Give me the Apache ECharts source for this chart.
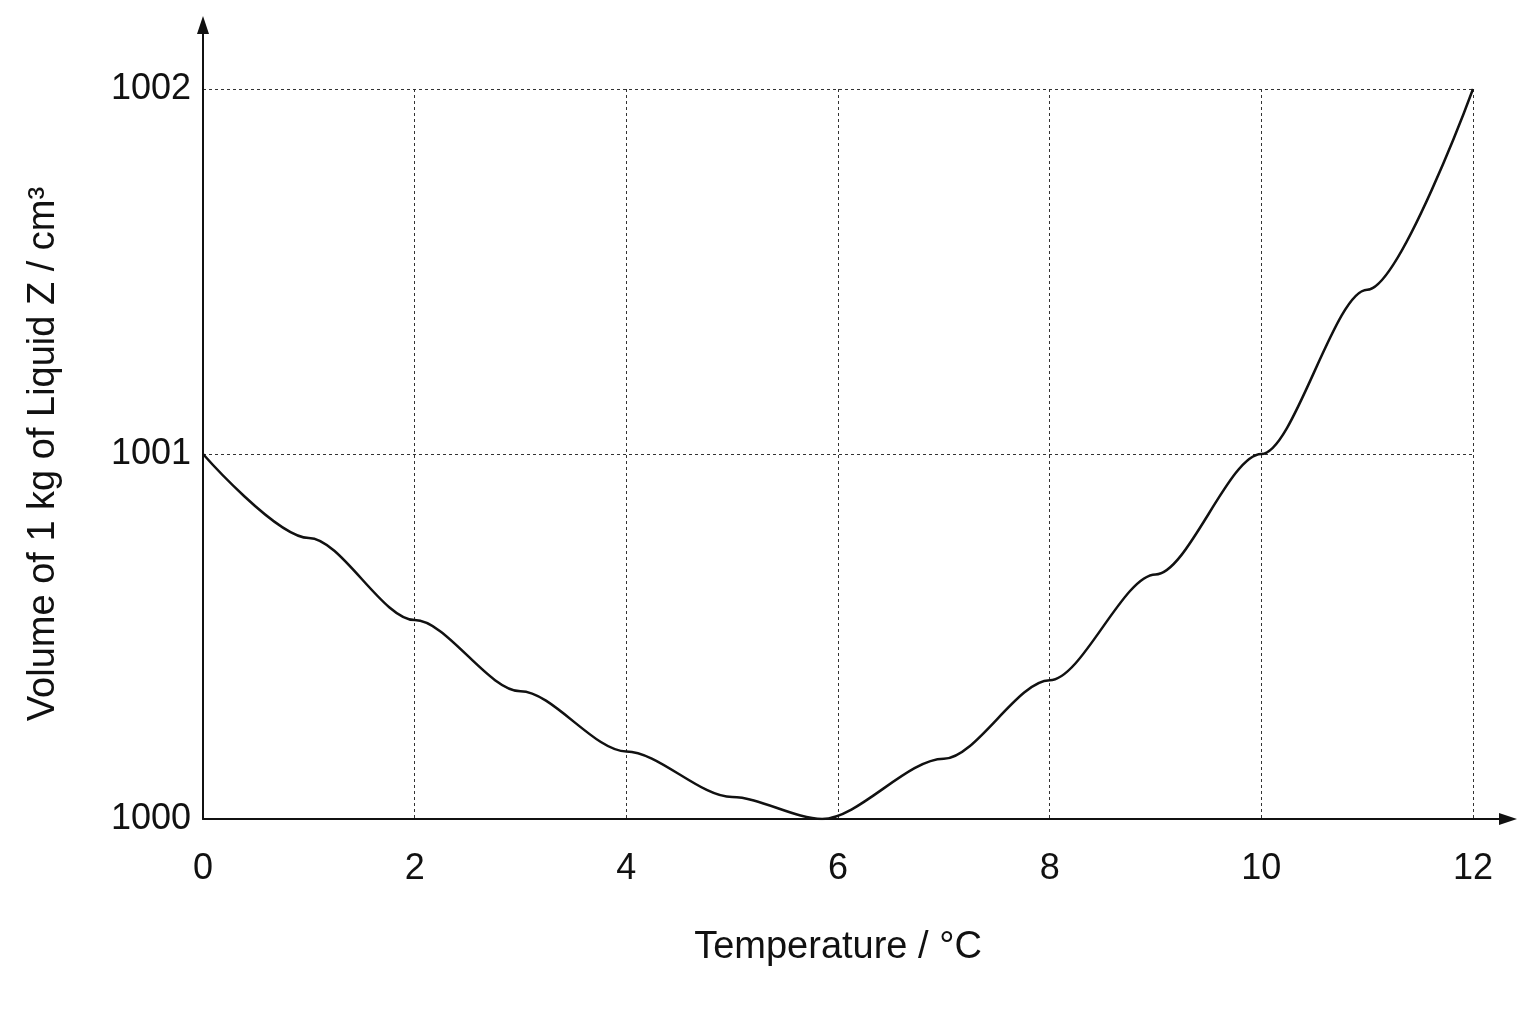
<!DOCTYPE html>
<html><head><meta charset="utf-8">
<script src="https://cdn.jsdelivr.net/npm/echarts@6/dist/echarts.min.js"></script>
<style>html,body{margin:0;background:#fff}#c{width:1536px;height:1024px}</style>
</head><body><div id="c"></div>
<script>
const temps = [0, 1, 2, 3, 4, 5, 5.85, 7, 8, 9, 10, 11, 12];
const volumes = [1001, 1000.77, 1000.545, 1000.35, 1000.185, 1000.06, 1000, 1000.165, 1000.38, 1000.67, 1001, 1001.45, 1002];
const chart = echarts.init(document.getElementById('c'));
const font = 'Liberation Sans, Arial, sans-serif';
chart.setOption({
  animation: false,
  grid: {left: 203, right: 63, top: 89, bottom: 205},
  xAxis: {type: 'value', min: 0, max: 12, interval: 2,
    name: 'Temperature / °C', nameLocation: 'middle', nameGap: 110,
    nameTextStyle: {fontSize: 38, color: '#111', fontFamily: font},
    axisLine: {lineStyle: {color: '#111', width: 2}},
    axisTick: {show: false},
    axisLabel: {fontSize: 36, color: '#111', margin: 32, fontFamily: font},
    splitLine: {show: true, lineStyle: {color: '#333', type: [3, 3], width: 1}}},
  yAxis: {type: 'value', min: 1000, max: 1002, interval: 1,
    name: 'Volume of 1 kg of Liquid Z / cm³', nameLocation: 'middle', nameGap: 140,
    nameTextStyle: {fontSize: 38, color: '#111', fontFamily: font},
    axisLine: {show: true, lineStyle: {color: '#111', width: 2}},
    axisTick: {show: false},
    axisLabel: {fontSize: 36, color: '#111', margin: 12, fontFamily: font, formatter: v => String(v)},
    splitLine: {show: true, lineStyle: {color: '#333', type: [3, 3], width: 1}}},
  series: [{type: 'line', data: temps.map((t, i) => [t, volumes[i]]), smooth: 0.3, smoothMonotone: 'x',
    showSymbol: false, lineStyle: {color: '#111', width: 2.5}}],
  graphic: [
    {type: 'line', shape: {x1: 203, y1: 89, x2: 203, y2: 22}, style: {stroke: '#111', lineWidth: 2}},
    {type: 'polygon', shape: {points: [[203, 16], [197, 34], [209, 34]]}, style: {fill: '#111'}},
    {type: 'line', shape: {x1: 1473, y1: 819, x2: 1510, y2: 819}, style: {stroke: '#111', lineWidth: 2}},
    {type: 'polygon', shape: {points: [[1517, 819], [1499, 813], [1499, 825]]}, style: {fill: '#111'}}
  ]
});
</script></body></html>
